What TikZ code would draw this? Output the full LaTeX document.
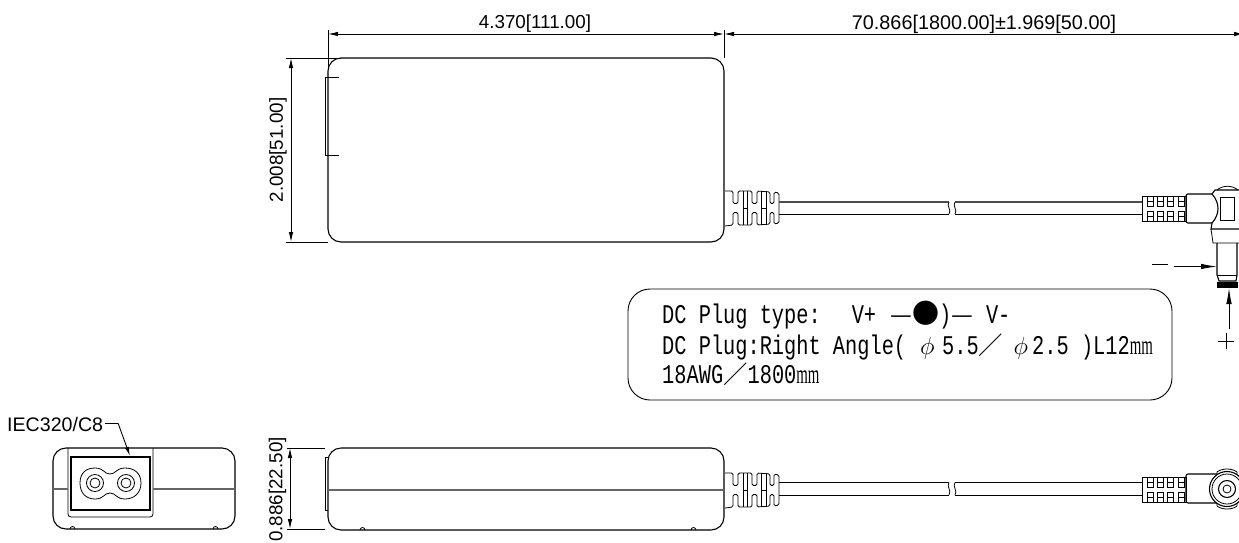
\documentclass[tikz,border=0pt]{standalone}
\usepackage{fontspec}
\setmainfont{Liberation Sans}
\newfontfamily\platefont[FakeStretch=0.753]{Liberation Mono}
\newfontfamily\platemm[FakeStretch=0.55]{Liberation Serif}
\newfontfamily\cjk{Noto Sans CJK SC}
\usetikzlibrary{arrows.meta}
\tikzset{
  dimtext/.style={font=\fontsize{18.8}{20}\selectfont,inner sep=0pt},
  platetext/.style={font={\fontsize{27}{28}\platefont},inner sep=0pt,anchor=base west},
  dimline/.style={line width=0.9pt,{Latex[length=10pt,width=4.5pt]}-{Latex[length=10pt,width=4.5pt]}},
  extline/.style={line width=0.9pt},
  outline/.style={line width=1.1pt,rounded corners=13pt},
  thinline/.style={line width=0.8pt},
  thickline/.style={line width=1.1pt},
  seamline/.style={line width=1.6pt,black!60},
  polarity/.style={line width=0.9pt,-{Latex[length=16pt,width=5.5pt]}}
}
\newcommand{\platephi}[1]{\makebox[#1][c]{\hspace{6pt}$\phi$}}
\newcommand{\plateslash}{{\fontsize{24.4}{26}\cjk ／}}
\newcommand{\platedash}{{\fontsize{24.4}{26}\cjk —}}
\begin{document}
\begin{tikzpicture}[x=1pt,y=-1pt]
\useasboundingbox (0,0) rectangle (1239,542);
%% dimensions of the top view
\coordinate (topA) at (328,34);
\coordinate (topB) at (724,34);
\coordinate (topC) at (1244,34);
\coordinate (sideA) at (291,58);
\coordinate (sideB) at (291,242);
\draw[dimline] (topA) -- (topB);
\draw[dimline] (topB) -- (topC);
\draw[dimline] (sideA) -- (sideB);
\draw[extline] (328,30) -- (328,70);
\draw[extline] (724,30) -- (724,58);
\draw[extline] (286,58) -- (341,58);
\draw[extline] (286,242) -- (328,242);
\node[dimtext] (lenA) at (535,24) {4.370[111.00]};
\node[dimtext,font=\fontsize{19.8}{20}\selectfont] (lenB) at (984,24) {70.866[1800.00]±1.969[50.00]};
\node[dimtext,rotate=90] (widA) at (278,150) {2.008[51.00]};
%% top view
\draw[outline] (328,58) rectangle (724,242);
\draw[thinline] (339,77) -- (325,77) -- (325,155) -- (339,155);
%% strain relief at the body, both views
\foreach \y in {0,282} {
\begin{scope}[yshift=-\y]
  \draw[thinline,rounded corners=1.5pt] (725,191) -- (733,191) -- (733,203.5) -- (738,203.5) -- (738,191) -- (752,191)
    -- (752,203.5) -- (757,203.5) -- (757,191) -- (770,192) -- (770,203.5) -- (774,203.5)
    -- (774,192) -- (779,193) -- (779,223) -- (774,224) -- (774,212.5) -- (770,212.5)
    -- (770,224) -- (757,225) -- (757,212.5) -- (752,212.5) -- (752,225)
    -- (738,225) -- (738,212.5) -- (733,212.5) -- (733,225) -- (725,226);
  \foreach \x in {743,747,761,766}
    \draw[thinline] (\x,191) -- (\x,225);
  \draw[thinline] (743,208) -- (747,208);
  \draw[thinline] (761,208) -- (766,208);
\end{scope}
}
%% cable
\draw[line width=1.6pt,black!70] (779,202) -- (949,202);
\draw[thinline] (779,214) -- (949,214);
\draw[line width=1.6pt,black!70] (955,202) -- (1142,202);
\draw[thinline] (955,214) -- (1142,214);
\draw[thinline] (949,202) .. controls (946,206) and (952,210) .. (949,214);
\draw[thinline] (955,202) .. controls (952,206) and (958,210) .. (955,214);
%% plug
\draw[thinline] (1142,196) rectangle (1186,221);
\foreach \x in {1147,1157,1167,1178} {
  \draw[thinline] (\x,196) rectangle (\x+6.5,206);
  \draw[thinline] (\x,201) -- (\x+6.5,201);
  \draw[thinline] (\x,211) rectangle (\x+6.5,221);
  \draw[thinline] (\x,216) -- (\x+6.5,216);
}
\draw[thickline,rounded corners=2pt] (1212,194) -- (1186,194) -- (1186,223) -- (1212,223);
\draw[thickline] (1212,194) .. controls (1220,203) and (1220,214) .. (1212,223);
\draw[thickline] (1212,194) -- (1215,190) -- (1239,190);
\draw[thinline] (1217,190) .. controls (1223,185) and (1232,185) .. (1238,190);
\draw[thinline] (1220,197) rectangle (1234,220);
\draw[thickline] (1212,223) -- (1211,229) -- (1239,229);
\draw[thinline] (1211,229) -- (1213,243) -- (1239,243);
\draw[thickline] (1217,243) -- (1217,275) -- (1219,281) -- (1236,281) -- (1237,275) -- (1237,243);
\draw[thinline] (1217,275) -- (1237,275);
\fill (1217,282) rectangle (1238,288);
%% polarity
\coordinate (minusA) at (1174,266.5);
\coordinate (minusB) at (1217,266.5);
\coordinate (plusA) at (1229,329);
\coordinate (plusB) at (1229,288);
\draw[polarity] (minusA) -- (minusB);
\draw[polarity] (plusA) -- (plusB);
\draw[extline] (1152,264) -- (1168,264);
\draw[extline] (1218,341) -- (1234,341);
\draw[extline] (1226,333) -- (1226,349);
%% plate
\draw[line width=0.9pt,rounded corners=22pt] (628,289) rectangle (1172,400);
\node[platetext] (plateA) at (662,323)
  {DC Plug type:\hspace{31pt}V+\hspace{14pt}\platedash{\fontsize{27}{28}\cjk ●})\platedash\hspace{13pt}V-};
\node[platetext] (plateB) at (662,354)
  {DC Plug:Right Angle(\platephi{36pt}5.5\plateslash\platephi{29pt}2.5 )L12{\platemm mm}};
\node[platetext] (plateC) at (662,383)
  {18AWG\plateslash 1800{\platemm mm}};
%% end view
\draw[outline] (53,448) rectangle (235,529);
\draw[thinline,rounded corners=3pt] (68,448) -- (68,517) -- (153,517) -- (153,448);
\draw[thickline] (71,457) rectangle (150,510);
\draw[seamline] (53,489) -- (68,489);
\draw[seamline] (153,489) -- (235,489);
\draw[thinline] (80,483) .. controls (80,473) and (86,468) .. (95,468) .. controls (104,468) and (104,474) .. (110,474)
  .. controls (116,474) and (116,468) .. (125,468) .. controls (134,468) and (141,473) .. (141,483)
  .. controls (141,493) and (134,499) .. (125,499) .. controls (116,499) and (116,493) .. (110,493)
  .. controls (104,493) and (104,499) .. (95,499) .. controls (86,499) and (80,493) .. (80,483);
\foreach \x in {95,126} {
  \draw[thinline] (\x,483) circle (8.5);
  \draw[thinline] (\x,483) circle (5);
}
\draw[thinline] (70,529) arc (180:0:2.5 and -2.5);
\draw[thinline] (213,529) arc (180:0:2.5 and -2.5);
\node[dimtext,anchor=west,font=\fontsize{19.6}{20}\selectfont] (plugname) at (7,424) {IEC320/C8};
\coordinate (plugA) at (118,423);
\coordinate (plugB) at (130,456);
\draw[extline] (plugname.east) ++(2,-1) -- (plugA);
\draw[extline,-{Latex[length=9pt,width=4pt]}] (plugA) -- (plugB);
%% side view
\coordinate (sideC) at (290,448);
\coordinate (sideD) at (290,529);
\draw[dimline] (sideC) -- (sideD);
\draw[extline] (287,448) -- (325,448);
\draw[extline] (287,529) -- (325,529);
\node[dimtext,rotate=90] (widB) at (277.5,489.5) {0.886[22.50]};
\draw[outline] (328,448) rectangle (724,530);
\draw[thinline] (328,457) -- (325.5,457) -- (325.5,510) -- (328,510);
\draw[seamline] (328,490) -- (724,490);
\draw[thinline] (360,530) arc (180:0:2.5 and -2.5);
\draw[thinline] (691,530) arc (180:0:2.5 and -2.5);
\draw[thinline] (779,482.5) -- (949,482.5);
\draw[thinline] (779,495) -- (949,495);
\draw[thinline] (955,482.5) -- (1142,482.5);
\draw[thinline] (955,495) -- (1142,495);
\draw[thinline] (949,482.5) .. controls (946,486) and (952,491) .. (949,495);
\draw[thinline] (955,482.5) .. controls (952,486) and (958,491) .. (955,495);
\draw[thinline] (1142,477) rectangle (1186,502);
\foreach \x in {1147,1157,1167,1178} {
  \draw[thinline] (\x,477) rectangle (\x+6.5,487);
  \draw[thinline] (\x,482) -- (\x+6.5,482);
  \draw[thinline] (\x,492) rectangle (\x+6.5,502);
  \draw[thinline] (\x,497) -- (\x+6.5,497);
}
\draw[thickline,rounded corners=2pt] (1218,474) -- (1186,474) -- (1186,503) -- (1218,503);
\draw[thinline,fill=white] (1217,472) .. controls (1222,468) and (1232,468) .. (1237,472) -- (1237,506)
  .. controls (1232,510) and (1222,510) .. (1217,506) -- cycle;
\draw[thickline,fill=white] (1227,489) circle (17.5);
\draw[thinline] (1227,489) circle (15);
\draw[thickline] (1227,489) circle (8.5);
\draw[thinline] (1227,489) circle (4);
\end{tikzpicture}
\end{document}
